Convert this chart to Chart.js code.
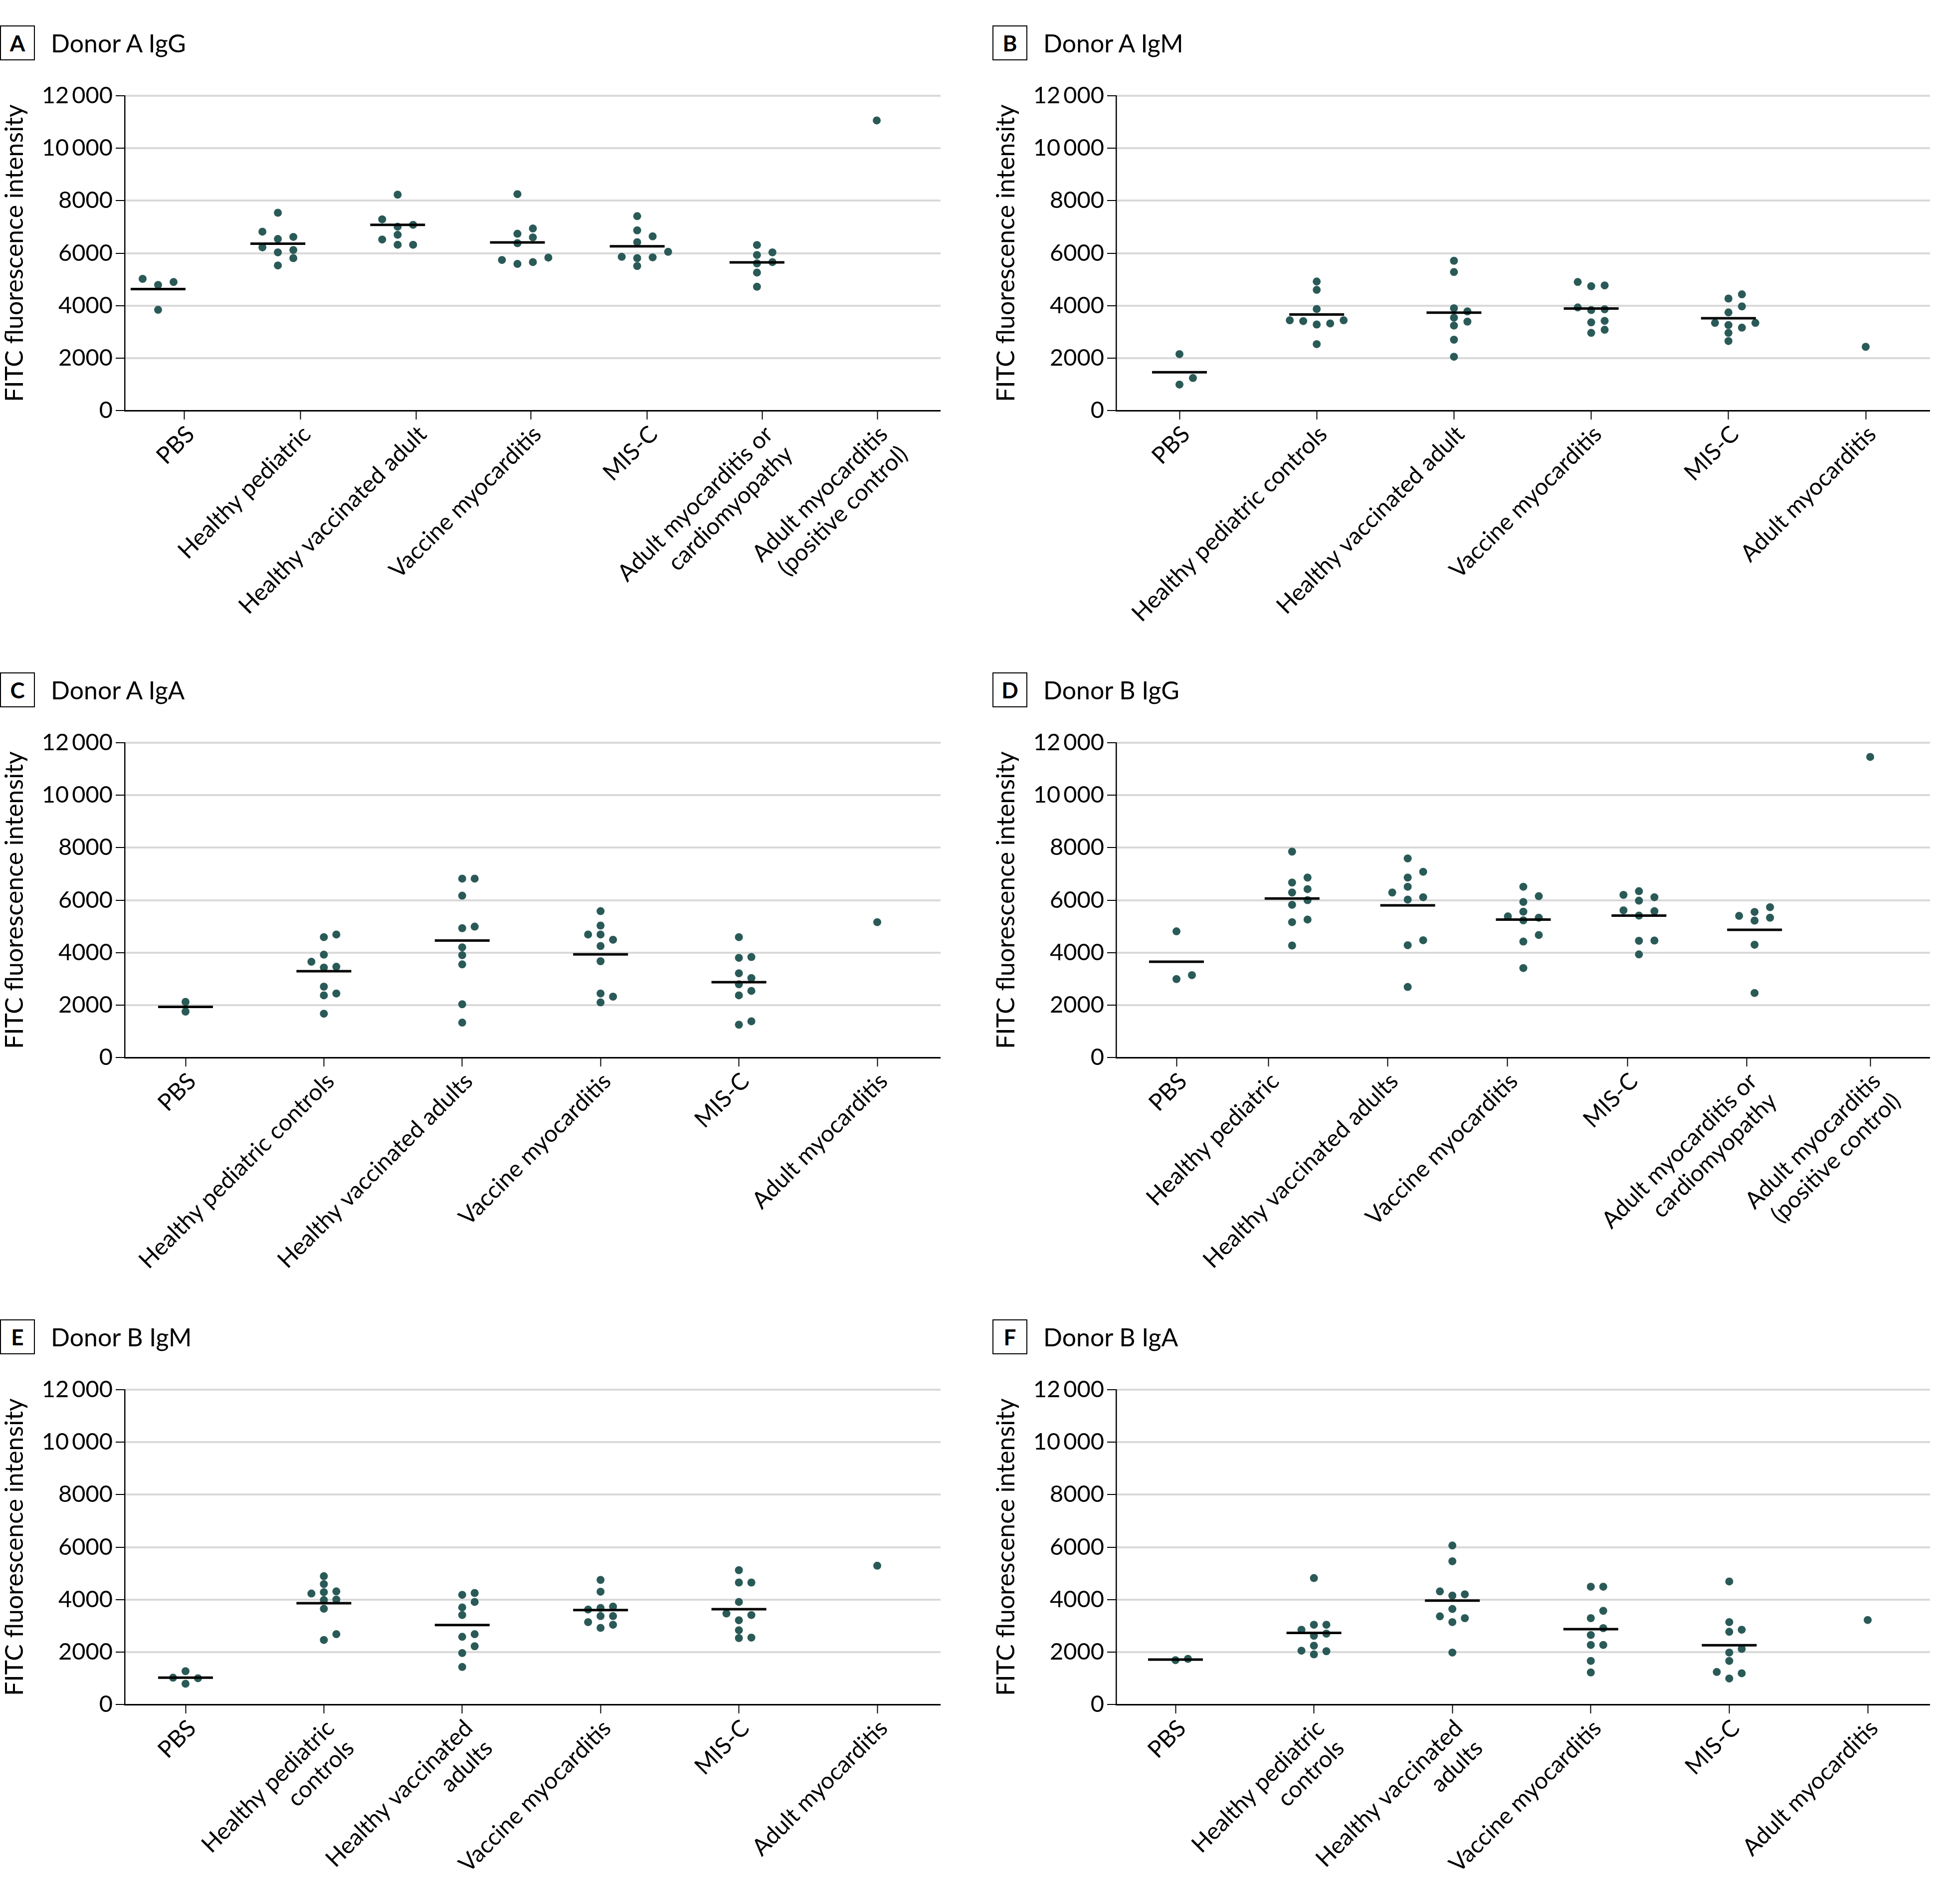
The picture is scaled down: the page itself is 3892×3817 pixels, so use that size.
<!DOCTYPE html>
<html><head><meta charset="utf-8">
<script src="https://cdn.jsdelivr.net/npm/chart.js@4.4.1/dist/chart.umd.min.js"></script>
<style>
html,body{margin:0;padding:0;background:#fff;}
body{width:3892px;height:3817px;position:relative;overflow:hidden;font-family:Lato,'Open Sans',sans-serif;color:#000;}
canvas{position:absolute;}
.lab{position:absolute;width:66px;height:66px;border:2.5px solid #000;font:bold 44px Lato,sans-serif;display:flex;align-items:center;justify-content:center;box-sizing:content-box;line-height:1;}
.ttl{position:absolute;font:50px Lato,sans-serif;line-height:60px;white-space:nowrap;}
</style></head>
<body>
<script>
// ---------- DATA ----------
const yTickValues = [0, 2000, 4000, 6000, 8000, 10000, 12000];
const yTickLabels = ['0', '2000', '4000', '6000', '8000', '10\u2009000', '12\u2009000'];
const yAxisTitle = 'FITC fluorescence intensity';

const catsA = ['PBS', 'Healthy pediatric', 'Healthy vaccinated adult', 'Vaccine myocarditis', 'MIS-C', ['Adult myocarditis or', 'cardiomyopathy'], ['Adult myocarditis', '(positive control)']];
const valsA = [
  [5020, 4790, 4900, 3840],
  [7540, 6620, 6540, 6820, 6120, 6220, 6030, 5810, 5530],
  [8230, 7290, 7080, 7010, 6700, 6520, 6320, 6320],
  [8250, 6940, 6740, 6600, 6380, 5590, 5830, 5660, 5740],
  [7410, 6870, 6640, 6420, 6050, 5840, 5860, 5810, 5510],
  [6310, 5930, 6030, 5610, 5660, 5260, 4720],
  [11060]
];
const meansA = [4630, 6360, 7080, 6410, 6260, 5650, null];

const catsB = ['PBS', 'Healthy pediatric controls', 'Healthy vaccinated adult', 'Vaccine myocarditis', 'MIS-C', 'Adult myocarditis'];
const valsB = [
  [2150, 1240, 990],
  [4920, 4600, 3870, 3440, 3410, 3440, 3280, 3320, 2530],
  [5710, 5280, 3900, 3780, 3540, 3390, 3240, 2700, 2050],
  [4770, 4740, 4900, 3860, 3830, 3930, 3360, 3420, 3080, 2960],
  [4430, 4270, 3970, 3740, 3340, 3340, 3160, 3260, 2960, 2650],
  [2430]
];
const meansB = [1460, 3660, 3730, 3890, 3520, null];

const catsC = ['PBS', 'Healthy pediatric controls', 'Healthy vaccinated adults', 'Vaccine myocarditis', 'MIS-C', 'Adult myocarditis'];
const valsC = [
  [2120, 1750],
  [4690, 4590, 3920, 3650, 3430, 3460, 2700, 2440, 2370, 1670],
  [6820, 6820, 6170, 4990, 4930, 4200, 3900, 3550, 2030, 1330],
  [5580, 5030, 4690, 4690, 4490, 4250, 3670, 2440, 2320, 2100],
  [4590, 3800, 3830, 3210, 3030, 2790, 2540, 2370, 1380, 1250],
  [5160]
];
const meansC = [1930, 3290, 4460, 3930, 2870, null];

const catsD = ['PBS', 'Healthy pediatric', 'Healthy vaccinated adults', 'Vaccine myocarditis', 'MIS-C', ['Adult myocarditis or', 'cardiomyopathy'], ['Adult myocarditis', '(positive control)']];
const valsD = [
  [4810, 3140, 2990],
  [7850, 6860, 6670, 6420, 6290, 6000, 5820, 5260, 5160, 4270],
  [7590, 7080, 6860, 6510, 6290, 6110, 6020, 4470, 4280, 2690],
  [6510, 6150, 5930, 5560, 5380, 5330, 5230, 4670, 4420, 3410],
  [6340, 6200, 6110, 5980, 5610, 5580, 5410, 4450, 4460, 3930],
  [5730, 5550, 5400, 5330, 5220, 4300, 2460],
  [11460]
];
const meansD = [3650, 6060, 5800, 5260, 5410, 4870, null];

const catsE = ['PBS', ['Healthy pediatric', 'controls'], ['Healthy vaccinated', 'adults'], 'Vaccine myocarditis', 'MIS-C', 'Adult myocarditis'];
const valsE = [
  [1270, 1000, 1020, 790],
  [4890, 4590, 4310, 4230, 4280, 3980, 4000, 3650, 2680, 2460],
  [4250, 4180, 3910, 3700, 3410, 2680, 2580, 2220, 1960, 1430],
  [4750, 4300, 3680, 3730, 3620, 3370, 3370, 3140, 2920, 3040],
  [5120, 4650, 4650, 3910, 3410, 3470, 3210, 2830, 2530, 2550],
  [5290]
];
const meansE = [1020, 3860, 3030, 3600, 3630, null];

const catsF = ['PBS', ['Healthy pediatric', 'controls'], ['Healthy vaccinated', 'adults'], 'Vaccine myocarditis', 'MIS-C', 'Adult myocarditis'];
const valsF = [
  [1690, 1740],
  [4820, 3040, 3040, 2850, 2700, 2620, 2240, 2050, 2030, 1910],
  [6060, 5460, 4310, 4200, 4150, 3640, 3360, 3290, 3140, 1980],
  [4490, 4490, 3570, 3290, 2910, 2650, 2270, 2270, 1660, 1220],
  [4690, 3140, 2770, 2850, 2120, 1980, 1660, 1240, 1190, 990],
  [3220]
];
const meansF = [1710, 2730, 3960, 2870, 2260, null];

// ---------- LAYOUT / STYLE ----------
const FONT = "Lato, 'Open Sans', sans-serif";
const DOT = '#2a5a57';
const GRID = '#d9d9d9';
const PLOT_TOP = 192, PLOT_H = 631, YAXIS_W = 250;
const ROW = 1297;
const LW = 1886, RW = 1882;

// tickShift: horizontal offset (px) of each category tick/label relative to its dot column
const panels = [
  {id: 'A', title: 'Donor A IgG', cats: catsA, vals: valsA, means: meansA, left: 0,    top: 0,       w: LW, h: ROW, padL: 67,  padR: 128, gap: 31, tickShift: [52, 45, 37, 27, 20, 11, 1]},
  {id: 'B', title: 'Donor A IgM', cats: catsB, vals: valsB, means: meansB, left: 1988, top: 0,       w: RW, h: ROW, padL: 127, padR: 129, gap: 27},
  {id: 'C', title: 'Donor A IgA', cats: catsC, vals: valsC, means: meansC, left: 0,    top: ROW,     w: LW, h: ROW, padL: 122, padR: 127, gap: 25},
  {id: 'D', title: 'Donor B IgG', cats: catsD, vals: valsD, means: meansD, left: 1988, top: ROW,     w: RW, h: ROW, padL: 121, padR: 120, gap: 31, tickShift: [0, -47, -40, -32, -23, -16, 0]},
  {id: 'E', title: 'Donor B IgM', cats: catsE, vals: valsE, means: meansE, left: 0,    top: 2 * ROW, w: LW, h: 3817 - 2 * ROW, padL: 122, padR: 127, gap: 25},
  {id: 'F', title: 'Donor B IgA', cats: catsF, vals: valsF, means: meansF, left: 1988, top: 2 * ROW, w: RW, h: 3817 - 2 * ROW, padL: 119, padR: 125, gap: 25}
];

// beeswarm: assign horizontal slots so that dots do not overlap vertically
function swarmSlots(values, pxPerY, thr) {
  const order = values.map((v, i) => i).sort((a, b) => values[a] - values[b]);
  const placed = [];
  const slots = new Array(values.length).fill(0);
  const cand = [0, 1, -1, 2, -2, 3, -3, 4, -4, 5, -5];
  for (const i of order) {
    const y = values[i] * pxPerY;
    for (const s of cand) {
      if (!placed.some(p => p.s === s && Math.abs(p.y - y) < thr)) {
        slots[i] = s; placed.push({s, y}); break;
      }
    }
  }
  return slots;
}

Chart.defaults.font.family = FONT;
Chart.defaults.color = '#000';

panels.forEach(p => {
  const colX = p.left === 0 ? 0 : 1990;
  const lab = document.createElement('div');
  lab.className = 'lab';
  lab.textContent = p.id;
  lab.style.left = colX + 'px';
  lab.style.top = (p.top + 51) + 'px';
  document.body.appendChild(lab);
  const ttl = document.createElement('div');
  ttl.className = 'ttl';
  ttl.textContent = p.title;
  ttl.style.left = (colX + 102) + 'px';
  ttl.style.top = (p.top + 56) + 'px';
  document.body.appendChild(ttl);

  const cv = document.createElement('canvas');
  cv.width = p.w; cv.height = p.h;
  cv.style.left = p.left + 'px'; cv.style.top = p.top + 'px';
  cv.style.width = p.w + 'px'; cv.style.height = p.h + 'px';
  document.body.appendChild(cv);

  const n = p.cats.length;
  const plotW = p.w - YAXIS_W;
  const k = (plotW - p.padL - p.padR) / (n - 1);   // px per category unit
  const xmin = -p.padL / k, xmax = (n - 1) + p.padR / k;
  const pxPerY = PLOT_H / 12000;
  const shift = p.tickShift || p.cats.map(() => 0);

  const dots = [];
  p.vals.forEach((arr, ci) => {
    const slots = swarmSlots(arr, pxPerY, 15);
    arr.forEach((v, j) => dots.push({x: ci + slots[j] * p.gap / k, y: v}));
  });
  const meanPts = [];
  p.means.forEach((m, ci) => { if (m !== null) meanPts.push({x: ci, y: m}); });

  new Chart(cv, {
    type: 'scatter',
    data: {
      datasets: [
        {data: meanPts, pointStyle: 'line', pointRadius: 55, pointHoverRadius: 55, borderColor: '#000', pointBorderWidth: 5, borderWidth: 5, backgroundColor: '#000', clip: false},
        {data: dots, pointStyle: 'circle', pointRadius: 8, pointHoverRadius: 8, backgroundColor: DOT, borderColor: DOT, borderWidth: 0, pointBorderWidth: 0, clip: false}
      ]
    },
    options: {
      responsive: false,
      animation: false,
      devicePixelRatio: 1,
      events: [],
      layout: {autoPadding: false, padding: {top: PLOT_TOP, left: 0, right: 0, bottom: 0}},
      plugins: {legend: {display: false}, tooltip: {enabled: false}},
      scales: {
        x: {
          type: 'linear', min: xmin, max: xmax,
          afterBuildTicks: s => { s.ticks = p.cats.map((c, i) => ({value: i + shift[i] / k})); },
          afterFit: s => { s.height = p.h - PLOT_TOP - PLOT_H; s.paddingLeft = 0; s.paddingRight = 0; },
          ticks: {
            autoSkip: false, maxRotation: 45, minRotation: 45, padding: 2, labelOffset: 13,
            font: {size: 47, family: FONT}, color: '#000',
            callback: (v, i) => p.cats[i]
          },
          grid: {display: true, drawOnChartArea: false, drawTicks: true, tickLength: 18, tickColor: '#000', tickWidth: 2, color: '#000'},
          border: {display: true, color: '#000', width: 3}
        },
        y: {
          type: 'linear', min: 0, max: 12000,
          afterBuildTicks: s => { s.ticks = yTickValues.map(v => ({value: v})); },
          afterFit: s => { s.width = YAXIS_W; s.paddingTop = 0; s.paddingBottom = 0; },
          ticks: {
            padding: 6, font: {size: 47, family: FONT}, color: '#000',
            callback: (v, i) => yTickLabels[i]
          },
          grid: {
            drawTicks: true, tickLength: 18, tickColor: '#000', tickWidth: 2, lineWidth: 4,
            color: c => (c.tick && c.tick.value === 0) ? 'rgba(0,0,0,0)' : GRID
          },
          border: {display: true, color: '#000', width: 2.5},
          title: {display: true, text: yAxisTitle, font: {size: 50, family: FONT}, color: '#000', padding: 0}
        }
      }
    }
  });
});
</script>
</body></html>
